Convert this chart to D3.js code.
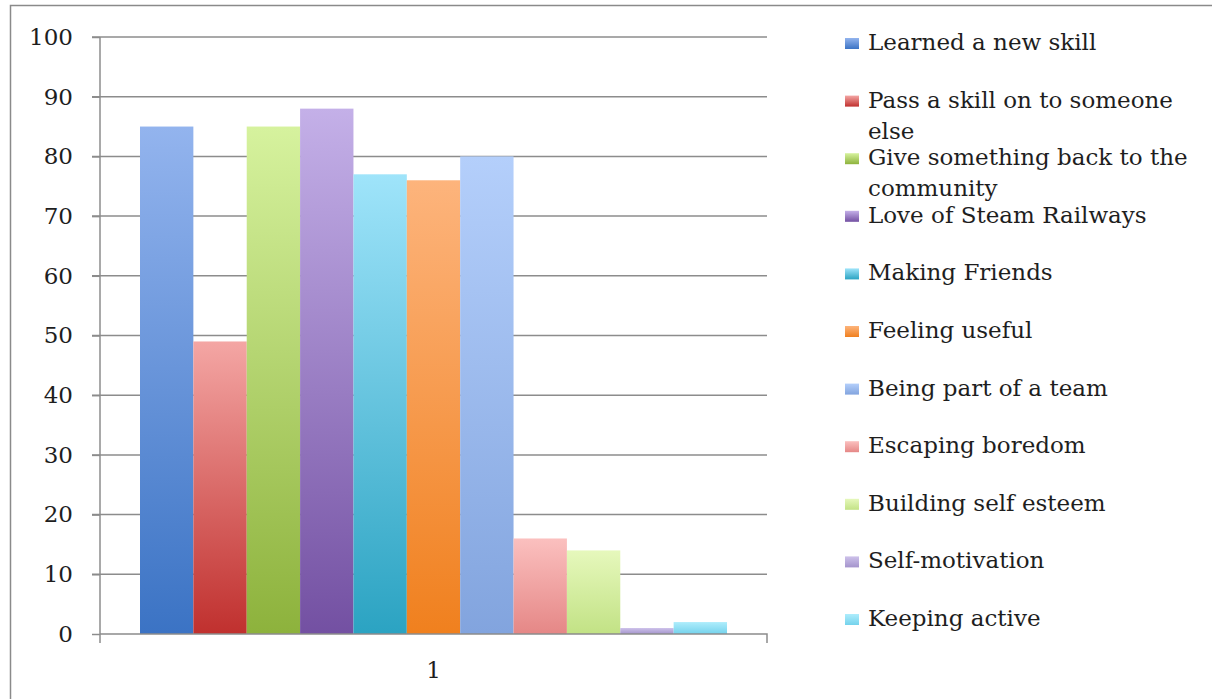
<!DOCTYPE html>
<html>
<head>
<meta charset="utf-8">
<script src="https://cdn.jsdelivr.net/npm/d3@7"></script>
<style>
  body { margin: 0; background: #fff; }
  svg text { font-family: "DejaVu Serif", serif; fill: #1e1e1e; }
</style>
</head>
<body>
<script>
// series names, in legend order
var seriesNames = [
  "Learned a new skill",
  "Pass a skill on to someone else",
  "Give something back to the community",
  "Love of Steam Railways",
  "Making Friends",
  "Feeling useful",
  "Being part of a team",
  "Escaping boredom",
  "Building self esteem",
  "Self-motivation",
  "Keeping active"
];
// one value per series, for category "1"
var seriesValues = [85, 49, 85, 88, 77, 76, 80, 16, 14, 1, 2];
var categories = ["1"];
var yTicks = [0, 10, 20, 30, 40, 50, 60, 70, 80, 90, 100];

// light (top) and dark (bottom) colour of each bar's gradient
var topColors = ["#93b4ee", "#f4a6a4", "#d6f29e", "#c4b0e8", "#9fe4fa", "#fdb47c",
                 "#b4cffb", "#fbc0bf", "#e6f8bc", "#cdc1ea", "#aeedfc"];
var bottomColors = ["#3b73c4", "#c0302e", "#8db23c", "#7350a2", "#2ba3c2", "#f0801e",
                    "#82a4de", "#e58786", "#c2e285", "#a494cc", "#74d2ec"];

var W = 1212, H = 699;
var margin = {top: 37, left: 100};
var plotW = 667, plotH = 597;
var fontSize = "23px";

var svg = d3.select("body").append("svg")
    .attr("width", W)
    .attr("height", H);

// frame of the chart area (only top and left edges show)
svg.append("path")
    .attr("d", "M10.5," + H + "V5.5H" + W)
    .attr("fill", "none")
    .attr("stroke", "#8a8a8a")
    .attr("stroke-width", 1.5);

var defs = svg.append("defs");
seriesNames.forEach(function(n, i) {
  var g = defs.append("linearGradient")
      .attr("id", "grad" + i)
      .attr("x1", 0).attr("y1", 0).attr("x2", 0).attr("y2", 1);
  g.append("stop").attr("offset", "0%").attr("stop-color", topColors[i]);
  g.append("stop").attr("offset", "100%").attr("stop-color", bottomColors[i]);
});

var g = svg.append("g")
    .attr("transform", "translate(" + margin.left + "," + margin.top + ")");

var y = d3.scaleLinear().domain([0, 100]).range([plotH, 0]);
var x0 = d3.scaleBand().domain(categories).range([0, plotW]).paddingInner(0).paddingOuter(0);
// bars sit in the middle of the band, gap of 150% of one bar width overall
var x1 = d3.scaleBand().domain(d3.range(seriesNames.length))
    .range([40, x0.bandwidth() - 40]).padding(0);

// gridlines
g.selectAll(".grid")
    .data(yTicks.slice(1))
  .enter().append("line")
    .attr("x1", -8).attr("x2", plotW)
    .attr("y1", function(d) { return y(d); })
    .attr("y2", function(d) { return y(d); })
    .attr("stroke", "#8c8c8c")
    .attr("stroke-width", 1.5);

// bars
var cat = g.selectAll(".cat")
    .data(categories)
  .enter().append("g")
    .attr("transform", function(d) { return "translate(" + x0(d) + ",0)"; });

cat.selectAll("rect")
    .data(seriesValues)
  .enter().append("rect")
    .attr("x", function(d, i) { return x1(i); })
    .attr("width", x1.bandwidth())
    .attr("y", function(d) { return y(d); })
    .attr("height", function(d) { return plotH - y(d); })
    .attr("fill", function(d, i) { return "url(#grad" + i + ")"; });

// y axis
var yAxis = g.append("g")
    .call(d3.axisLeft(y).tickValues(yTicks).tickSize(8).tickPadding(19));
yAxis.select(".domain").attr("d", "M0,0V" + (plotH + 9));
yAxis.selectAll("line, .domain").attr("stroke", "#8c8c8c").attr("stroke-width", 1.5);
yAxis.selectAll("text")
    .style("font-family", "DejaVu Serif, serif")
    .style("font-size", fontSize)
    .attr("fill", "#2a2a2a");

// x axis
var xAxis = g.append("g")
    .attr("transform", "translate(0," + plotH + ")")
    .call(d3.axisBottom(x0).tickSize(0).tickPadding(28));
xAxis.select(".domain").attr("d", "M0,0H" + plotW + "V9");
xAxis.selectAll(".domain").attr("stroke", "#8c8c8c").attr("stroke-width", 1.5);
xAxis.selectAll("text")
    .style("font-family", "DejaVu Serif, serif")
    .style("font-size", fontSize)
    .attr("fill", "#2a2a2a");

// legend
var legend = svg.append("g").attr("transform", "translate(845,50)");
var item = legend.selectAll(".item")
    .data(seriesNames)
  .enter().append("g")
    .attr("transform", function(d, i) { return "translate(0," + (i * 57.6) + ")"; });

item.append("rect")
    .attr("x", 0).attr("y", -12)
    .attr("width", 14).attr("height", 11)
    .attr("fill", function(d, i) { return "url(#grad" + i + ")"; });

var maxW = 336;
item.each(function(d) {
  var t = d3.select(this).append("text")
      .attr("x", 23).attr("y", 0)
      .style("font-size", fontSize);
  var words = d.split(" "), line = [];
  var tspan = t.append("tspan").attr("x", 23).attr("dy", 0);
  words.forEach(function(w) {
    line.push(w);
    tspan.text(line.join(" "));
    if (tspan.node().getComputedTextLength() > maxW && line.length > 1) {
      line.pop();
      tspan.text(line.join(" "));
      line = [w];
      tspan = t.append("tspan").attr("x", 23).attr("dy", 31).text(w);
    }
  });
});
</script>
</body>
</html>
